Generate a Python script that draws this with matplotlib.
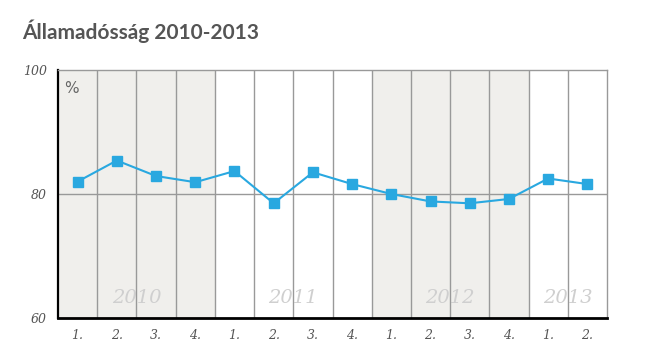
import matplotlib
matplotlib.use("Agg")
import matplotlib.pyplot as plt

quarters = ["1.", "2.", "3.", "4.", "1.", "2.", "3.", "4.", "1.", "2.", "3.", "4.", "1.", "2."]
values = [82.0, 85.4, 82.9, 81.9, 83.7, 78.5, 83.5, 81.6, 80.0, 78.8, 78.5, 79.2, 82.5, 81.6]
years = ["2010", "2011", "2012", "2013"]
year_counts = [4, 4, 4, 2]
shaded_years = ["2010", "2012"]
y_ticks = [60, 80, 100]

fig = plt.figure(figsize=(6.66, 3.57), dpi=100)
ax = fig.add_axes([58/666, 1-318/357, (607-58)/666, (318-70)/357])

n = len(values)
x = list(range(n))
ax.set_xlim(-0.5, n - 0.5)
ax.set_ylim(60, 100)

# shading and year labels
start = 0
for yr, cnt in zip(years, year_counts):
    if yr in shaded_years:
        ax.axvspan(start - 0.5, start + cnt - 0.5, color="#f0efec", zorder=0, lw=0)
    ax.text(start + (cnt - 1) / 2, 63.3, yr, ha="center", va="center",
            fontsize=14, style="italic", family="DejaVu Serif", color="#cfcfcf", zorder=1)
    start += cnt

for i in range(1, n):
    ax.axvline(i - 0.5, color="#999999", lw=1, zorder=1)
ax.axhline(80, color="#999999", lw=1, zorder=1)

ax.plot(x, values, color="#29a8e0", lw=1.5, marker="s", markersize=7.5, zorder=3)

for s in ["top", "right"]:
    ax.spines[s].set_color("#999999")
    ax.spines[s].set_linewidth(1)
ax.spines["left"].set_color("black")
ax.spines["left"].set_linewidth(1.6)
ax.spines["bottom"].set_color("black")
ax.spines["bottom"].set_linewidth(2)

ax.set_yticks(y_ticks)
ax.set_yticklabels([str(v) for v in y_ticks], fontsize=9, style="italic",
                   family="DejaVu Serif", color="#555555")
ax.set_xticks(x)
ax.set_xticklabels(quarters, fontsize=9, style="italic", family="DejaVu Serif", color="#555555")
ax.tick_params(length=0, pad=8)
ax.tick_params(axis="y", pad=8)

ax.text(0.012, 0.955, "%", transform=ax.transAxes, fontsize=11, color="#666666",
        ha="left", va="top", family="DejaVu Sans")

fig.text(22/666, 1-31/357, "Államadósság 2010-2013", fontsize=15, fontweight="bold",
         color="#555555", family="Lato", ha="left", va="center")

fig.savefig("out.png", dpi=100)
